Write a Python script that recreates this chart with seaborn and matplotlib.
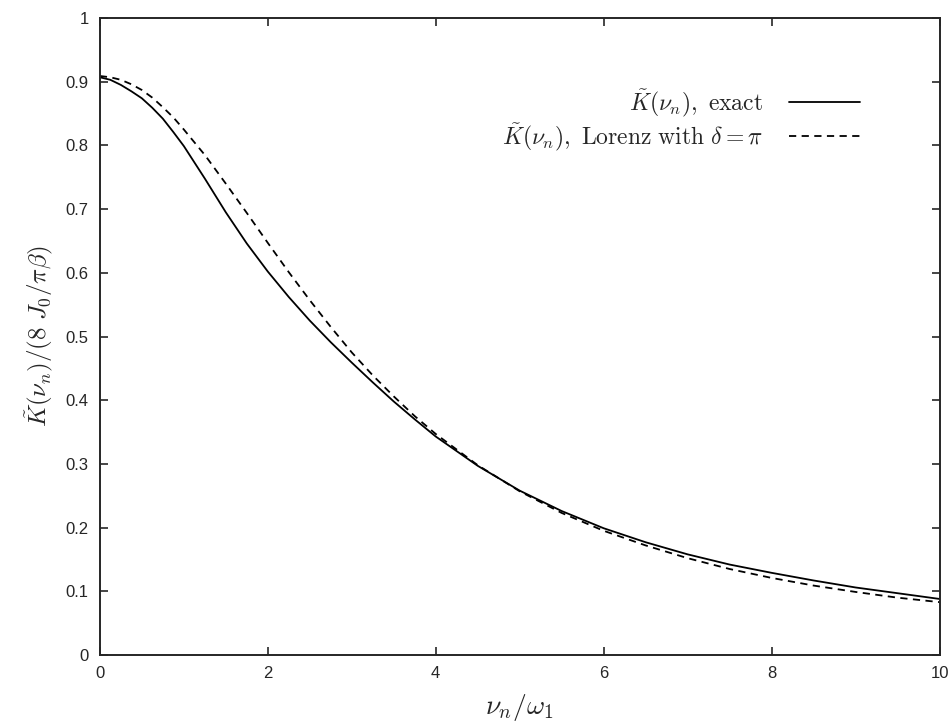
import pandas as pd
import matplotlib
matplotlib.use('Agg')
import matplotlib.pyplot as plt
import seaborn as sns

# Values
nu = [0.0, 0.125, 0.25, 0.375, 0.5, 0.625, 0.75, 0.875, 1.0, 1.25, 1.5, 1.75,
      2.0, 2.25, 2.5, 2.75, 3.0, 3.25, 3.5, 3.75, 4.0, 4.5, 5.0, 5.5, 6.0, 6.5,
      7.0, 7.5, 8.0, 8.5, 9.0, 9.5, 10.0]
k_exact = [0.907, 0.903, 0.895, 0.885, 0.874, 0.859, 0.842, 0.821, 0.799, 0.748,
           0.695, 0.646, 0.602, 0.562, 0.525, 0.491, 0.459, 0.428, 0.398, 0.370,
           0.343, 0.297, 0.258, 0.226, 0.199, 0.177, 0.158, 0.142, 0.129, 0.117,
           0.106, 0.097, 0.088]
k_lorenz = [0.909, 0.907, 0.903, 0.896, 0.887, 0.875, 0.860, 0.844, 0.825, 0.785,
            0.740, 0.694, 0.647, 0.601, 0.557, 0.515, 0.475, 0.439, 0.406, 0.375,
            0.347, 0.298, 0.257, 0.223, 0.195, 0.172, 0.152, 0.135, 0.121, 0.109,
            0.099, 0.090, 0.083]

label_exact = r'$\tilde{K}(\nu_n),\ \mathrm{exact}$'
label_lorenz = r'$\tilde{K}(\nu_n),\ \mathrm{Lorenz\ with}\ \delta=\pi$'

df = pd.DataFrame({'nu': nu, 'exact': k_exact, 'lorenz': k_lorenz})

sns.set_style('ticks')
plt.rcParams['mathtext.fontset'] = 'cm'
plt.rcParams['font.family'] = ['Liberation Sans', 'DejaVu Sans']

fig = plt.figure(figsize=(9.51, 7.24), dpi=100)
ax = fig.add_axes([0.105, 0.0953, 0.883, 0.8798])

sns.lineplot(data=df, x='nu', y='exact', ax=ax, color='black', linewidth=1.3,
             label=label_exact)
sns.lineplot(data=df, x='nu', y='lorenz', ax=ax, color='black', linewidth=1.3,
             label=label_lorenz)
ax.lines[1].set_dashes((4, 3))

ax.set_xlim(0, 10)
ax.set_ylim(0, 1)
ax.set_xticks([0, 2, 4, 6, 8, 10])
ax.set_yticks([0, 0.1, 0.2, 0.3, 0.4, 0.5, 0.6, 0.7, 0.8, 0.9, 1])
ax.set_yticklabels(['0', '0.1', '0.2', '0.3', '0.4', '0.5', '0.6', '0.7', '0.8', '0.9', '1'])
ax.tick_params(direction='in', length=6, width=1.2, top=True, right=True,
               labelsize=12, pad=8)
for sp in ax.spines.values():
    sp.set_linewidth(1.4)
    sp.set_visible(True)

ax.set_xlabel(r'$\nu_n/\omega_1$', fontsize=20, labelpad=8)
ax.set_ylabel(r'$\tilde{K}(\nu_n)/(8\ J_0/\pi\beta)$', fontsize=18, labelpad=8)

ax.legend(loc='upper right', bbox_to_anchor=(0.93, 0.925), frameon=False,
          markerfirst=False, fontsize=17, handlelength=3.0, labelspacing=0.1,
          handletextpad=1.1)

fig.savefig('out.png', dpi=100)
